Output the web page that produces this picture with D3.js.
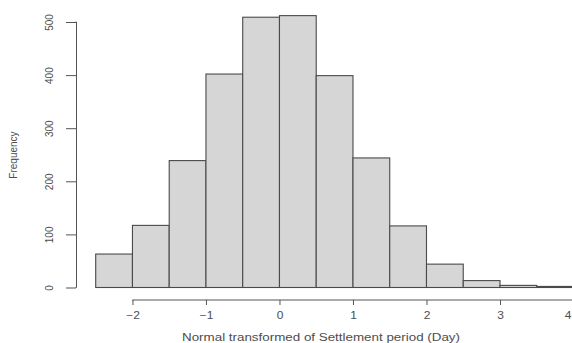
<!DOCTYPE html>
<html><head><meta charset="utf-8">
<script src="https://cdn.jsdelivr.net/npm/d3@7"></script>
<style>body{margin:0;background:#fff}svg{display:block}text{font-family:"Liberation Sans",Arial,sans-serif;fill:#4d4d4d}</style>
</head><body>
<script>
const binEdges = [-2.5,-2,-1.5,-1,-0.5,0,0.5,1,1.5,2,2.5,3,3.5,4];
const counts = [63,117,239,402,509,512,399,244,116,44,13,4,2];
const xTicks = [-2,-1,0,1,2,3,4];
const yTicks = [0,100,200,300,400,500];
const xTitle = "Normal transformed of Settlement period (Day)";
const yTitle = "Frequency";

const W=572,H=343;
const svg=d3.select("body").append("svg").attr("width",W).attr("height",H);
const x=d3.scaleLinear().domain([-2.5,3]).range([95.7,500]);
const y=d3.scaleLinear().domain([0,500]).range([287.5,22]);

const bins=counts.map((c,i)=>({x0:binEdges[i],x1:binEdges[i+1],c}));
svg.selectAll("rect.bar").data(bins).join("rect").attr("class","bar")
  .attr("x",d=>x(d.x0)).attr("width",d=>x(d.x1)-x(d.x0))
  .attr("y",d=>y(d.c)).attr("height",d=>y(0)-y(d.c))
  .attr("fill","#d6d6d6").attr("stroke","#4a4a4a").attr("stroke-width",1.1);

// y axis
const ya=svg.append("g").attr("transform","translate(76,0)")
  .call(d3.axisLeft(y).tickValues(yTicks).tickSize(10).tickFormat(d3.format("d")));
ya.select(".domain").attr("d",`M-0.5,${y(0)}H0.5V${y(500)}H-0.5`).attr("stroke","#555").attr("fill","none");
ya.selectAll(".tick line").attr("stroke","#555");
ya.selectAll(".tick text").attr("x",0).attr("y",0).attr("dx",0).attr("dy",0)
  .attr("transform","translate(-23,0) rotate(-90)")
  .attr("text-anchor","middle").attr("font-size",10).style("fill","#4d4d4d");

// x axis
const xa=svg.append("g").attr("transform","translate(0,300)")
  .call(d3.axisBottom(x).tickValues(xTicks).tickSize(5).tickFormat(d=>d<0?"\u2212"+Math.abs(d):d));
xa.select(".domain").attr("d",`M${x(-2)},0.5V0H${x(4)}`).attr("stroke","#555").attr("fill","none");
xa.selectAll(".tick line").attr("stroke","#555");
xa.selectAll(".tick text").attr("y",0).attr("dy",0)
  .attr("transform",d=>d===4?"translate(-2.5,19) scale(1.2,1)":"translate(0,19) scale(1.2,1)")
  .attr("text-anchor",d=>d===4?"end":"middle")
  .attr("font-size",10).style("fill","#4d4d4d");

svg.append("text").attr("x",182).attr("y",341).attr("font-size",10)
  .attr("textLength",278).attr("lengthAdjust","spacingAndGlyphs").text(xTitle);
svg.append("text").attr("transform","translate(17,155) rotate(-90)").attr("text-anchor","middle").attr("font-size",10).text(yTitle);
</script>
</body></html>
